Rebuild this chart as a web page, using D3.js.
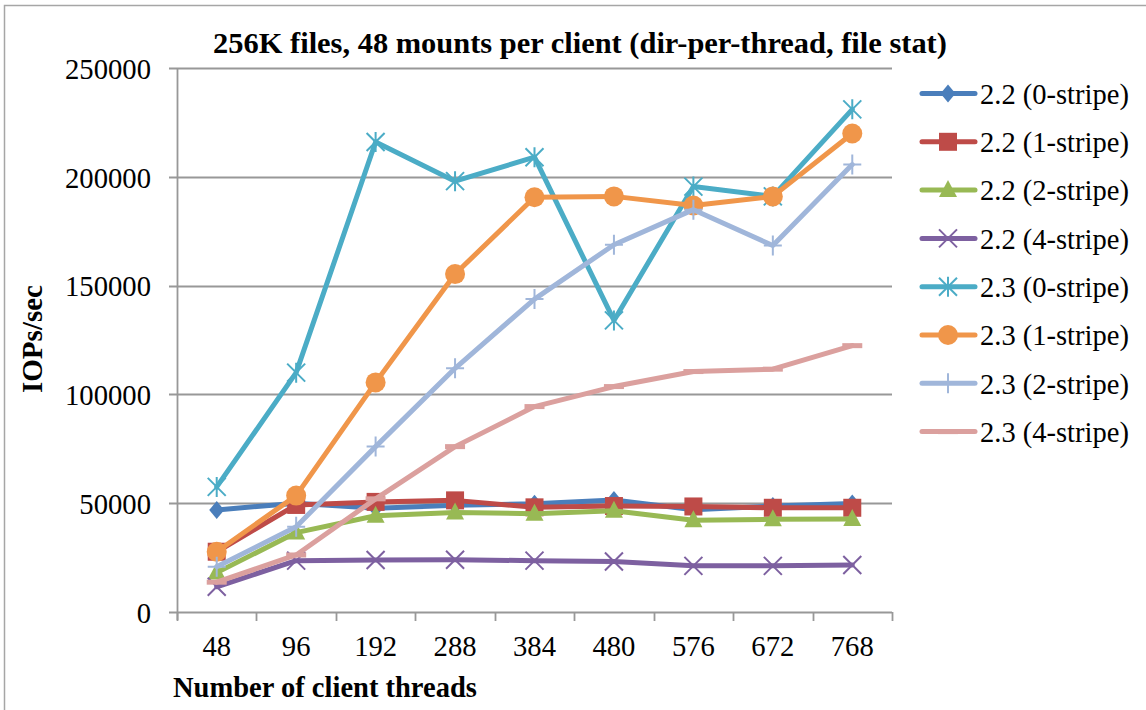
<!DOCTYPE html>
<html>
<head>
<meta charset="utf-8">
<script src="https://cdn.jsdelivr.net/npm/d3@7"></script>
<style>
  html, body { margin: 0; padding: 0; background: #ffffff; }
  svg { display: block; }
  svg text { font-family: "Liberation Serif", serif !important; fill: #000; }
</style>
</head>
<body>
<svg id="chart" width="1146" height="710"></svg>
<script>
// ---------- data ----------
const categories = ["48", "96", "192", "288", "384", "480", "576", "672", "768"];
const seriesNames = ["2.2 (0-stripe)", "2.2 (1-stripe)", "2.2 (2-stripe)", "2.2 (4-stripe)",
                     "2.3 (0-stripe)", "2.3 (1-stripe)", "2.3 (2-stripe)", "2.3 (4-stripe)"];
const v22_0 = [46900, 50000, 47700, 49000, 49800, 51500, 47000, 48700, 49900];
const v22_1 = [27700, 49200, 50600, 51300, 48100, 48700, 48500, 47900, 47900];
const v22_2 = [18100, 36500, 44200, 45700, 45200, 46500, 42200, 42600, 42700];
const v22_4 = [11600, 23600, 23900, 24000, 23600, 23200, 21200, 21200, 21600];
const v23_0 = [57500, 110000, 216000, 198000, 209000, 134000, 195500, 191000, 231000];
const v23_1 = [27700, 53500, 105500, 155300, 190600, 191000, 186800, 191000, 219900];
const v23_2 = [20800, 39200, 76000, 112000, 143800, 168800, 184900, 168400, 205600];
const v23_4 = [13700, 26200, 52000, 76000, 94400, 103600, 110500, 111600, 122400];
const yTicks = [0, 50000, 100000, 150000, 200000, 250000];
const titleText = "256K files, 48 mounts per client (dir-per-thread, file stat)";
const xTitle = "Number of client threads";
const yTitle = "IOPs/sec";

// ---------- styles ----------
const colors = ["#4a7ebb", "#be4b48", "#98b954", "#7d60a0", "#4bacc6", "#f0964a", "#a0b6da", "#dba09e"];
const markers = ["diamond", "square", "triangle", "x", "asterisk", "circle", "plus", "dash"];
const values = [v22_0, v22_1, v22_2, v22_4, v23_0, v23_1, v23_2, v23_4];
const series = seriesNames.map((n, i) => ({ name: n, values: values[i], color: colors[i], marker: markers[i] }));

const svg = d3.select("#chart");
const L = 177, R = 892, T = 68, B = 612;

const x = d3.scaleBand().domain(categories).range([L, R]).padding(0);
const y = d3.scaleLinear().domain([0, 250000]).range([B, T]);
const cx = c => x(c) + x.bandwidth() / 2;

function fit(sel, targetW) {
  const node = sel.node();
  const fs = parseFloat(sel.attr("font-size"));
  const w = node.getComputedTextLength();
  sel.attr("font-size", (fs * targetW / w).toFixed(2));
}
function fitSize(str, weight, targetW, base = 20) {
  const t = svg.append("text").attr("font-size", base).attr("font-weight", weight).text(str);
  const w = t.node().getComputedTextLength();
  t.remove();
  return base * targetW / w;
}

// outer border
svg.append("rect").attr("x", 4.5).attr("y", 5.5).attr("width", 1300).attr("height", 900)
  .attr("fill", "none").attr("stroke", "#a6a6a6").attr("stroke-width", 1.5);

// gridlines
svg.append("g").selectAll("line").data(yTicks).join("line")
  .attr("x1", 169).attr("x2", R)
  .attr("y1", d => Math.round(y(d)) + 0.5).attr("y2", d => Math.round(y(d)) + 0.5)
  .attr("stroke", "#989898").attr("stroke-width", 1.8);

// y axis
const tickFs = fitSize("250000", "normal", 86);
const yAxis = svg.append("g").attr("transform", `translate(${L},0)`)
  .call(d3.axisLeft(y).tickValues(yTicks).tickSize(0).tickPadding(26).tickFormat(d3.format("d")));
yAxis.attr("font-family", null).attr("font-size", null);
yAxis.select(".domain").remove();
yAxis.selectAll("text").attr("font-size", tickFs).attr("fill", "#000").attr("dy", "0.36em");
svg.append("line").attr("x1", L + 0.5).attr("x2", L + 0.5).attr("y1", T).attr("y2", B + 8)
  .attr("stroke", "#989898").attr("stroke-width", 1.8);

// x axis
const xAxis = svg.append("g").attr("transform", `translate(0,${B})`)
  .call(d3.axisBottom(x).tickSize(0).tickPadding(34));
xAxis.attr("font-family", null).attr("font-size", null);
xAxis.select(".domain").remove();
xAxis.selectAll("text").attr("font-size", tickFs).attr("fill", "#000").attr("dy", "0.36em");
const xb = categories.map(c => x(c)).concat([R]);
svg.append("g").selectAll("line").data(xb).join("line")
  .attr("x1", d => Math.round(d) + 0.5).attr("x2", d => Math.round(d) + 0.5)
  .attr("y1", B).attr("y2", B + 9)
  .attr("stroke", "#989898").attr("stroke-width", 1.8);

// title
const title = svg.append("text").attr("x", 580).attr("y", 53).attr("text-anchor", "middle")
  .attr("font-weight", "bold").attr("font-size", 24).text(titleText);
fit(title, 734);

// axis titles
const xt = svg.append("text").attr("x", 173).attr("y", 697).attr("font-weight", "bold")
  .attr("font-size", 22).text(xTitle);
fit(xt, 304);
const yt = svg.append("text").attr("transform", "translate(42,339) rotate(-90)")
  .attr("text-anchor", "middle").attr("font-weight", "bold").attr("font-size", 24).text(yTitle);
fit(yt, 108);

function drawMarker(g, type, color) {
  switch (type) {
    case "diamond":
      g.append("path").attr("d", "M0,-9 L7.5,0 L0,9 L-7.5,0Z").attr("fill", color); break;
    case "square":
      g.append("rect").attr("x", -9).attr("y", -9).attr("width", 18).attr("height", 18).attr("fill", color); break;
    case "triangle":
      g.append("path").attr("d", "M0,-10 L9,7 L-9,7Z").attr("fill", color); break;
    case "circle":
      g.append("circle").attr("r", 10).attr("fill", color); break;
    case "x":
      g.append("path").attr("d", "M-9,-9 L9,9 M-9,9 L9,-9").attr("stroke", color).attr("stroke-width", 2).attr("fill", "none"); break;
    case "asterisk":
      g.append("path").attr("d", "M-9,-9 L9,9 M-9,9 L9,-9 M0,-10 L0,10").attr("stroke", color).attr("stroke-width", 2).attr("fill", "none"); break;
    case "plus":
      g.append("path").attr("d", "M-9,0 L9,0 M0,-10 L0,10").attr("stroke", color).attr("stroke-width", 2).attr("fill", "none"); break;
    case "dash":
      g.append("rect").attr("x", -10).attr("y", -2.5).attr("width", 20).attr("height", 5).attr("fill", color); break;
  }
}

// series
const line = d3.line().x((d, i) => cx(categories[i])).y(d => y(d));
series.forEach(s => {
  const g = svg.append("g");
  g.append("path").attr("d", line(s.values)).attr("fill", "none")
    .attr("stroke", s.color).attr("stroke-width", 5).attr("stroke-linejoin", "round").attr("stroke-linecap", "round");
  s.values.forEach((v, i) => {
    const m = g.append("g").attr("transform", `translate(${cx(categories[i])},${y(v)})`);
    drawMarker(m, s.marker, s.color);
  });
});

// legend
const legFs = fitSize(seriesNames[0], "normal", 149);
const legY0 = 93.5, legDy = 48.3;
series.forEach((s, i) => {
  const ly = legY0 + i * legDy;
  const g = svg.append("g").attr("transform", `translate(0,${ly})`);
  g.append("line").attr("x1", 922).attr("x2", 975).attr("y1", 0).attr("y2", 0)
    .attr("stroke", s.color).attr("stroke-width", 5).attr("stroke-linecap", "round");
  const m = g.append("g").attr("transform", "translate(948,0)");
  drawMarker(m, s.marker, s.color);
  g.append("text").attr("x", 980).attr("y", 0).attr("dy", "0.36em")
    .attr("font-size", legFs).text(s.name);
});
</script>
</body>
</html>
